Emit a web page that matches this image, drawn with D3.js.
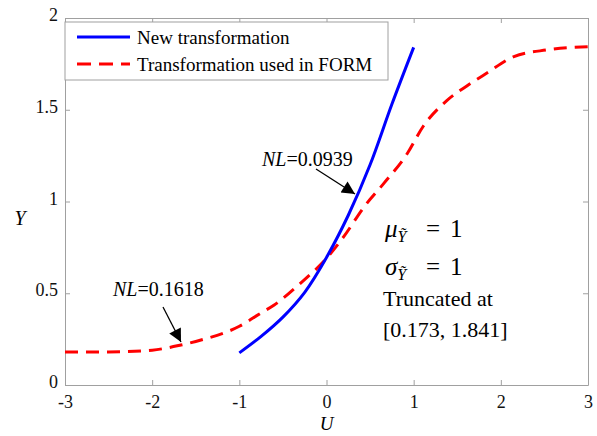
<!DOCTYPE html>
<html>
<head>
  <meta charset="utf-8">
  <script src="https://d3js.org/d3.v7.min.js"></script>
  <style>
    body { margin: 0; background: #fff; }
  </style>
</head>
<body>
  <script>
    // Values
    const formU = [-3, -2.5, -2, -1.67, -1.44, -1.0, -0.76, -0.6, -0.3, 0, 0.2, 0.43, 0.66, 0.925, 1.11, 1.38, 1.61, 1.84, 2.15, 2.53, 3];
    const formY = [0.18, 0.18, 0.19, 0.218, 0.245, 0.32, 0.39, 0.436, 0.554, 0.69, 0.81, 0.97, 1.1, 1.26, 1.41, 1.55, 1.63, 1.70, 1.79, 1.826, 1.844];
    const newU = [-1, -0.75, -0.5, -0.25, 0, 0.25, 0.5, 0.75, 1.0];
    const newY = [0.175, 0.265, 0.37, 0.505, 0.695, 0.925, 1.2, 1.53, 1.84];
    const xTicks = [-3, -2, -1, 0, 1, 2, 3];
    const yTicks = [0, 0.5, 1, 1.5, 2];
    const legendLabels = ["New transformation", "Transformation used in FORM"];

    const width = 597, height = 436;
    const margin = { top: 18, right: 9, bottom: 51, left: 65 };

    const svg = d3.select("body").append("svg")
      .attr("width", width)
      .attr("height", height);

    const x = d3.scaleLinear().domain([-3, 3]).range([margin.left, width - margin.right]);
    const y = d3.scaleLinear().domain([0, 2]).range([height - margin.bottom, margin.top]);

    const axisColor = "#a0a0a0";

    // axes with inward ticks
    const gx = svg.append("g")
      .attr("transform", `translate(0,${y(0)})`)
      .call(d3.axisBottom(x).tickValues(xTicks).tickSizeInner(-5).tickSizeOuter(0).tickPadding(10).tickFormat(d => d));
    const gy = svg.append("g")
      .attr("transform", `translate(${x(-3)},0)`)
      .call(d3.axisLeft(y).tickValues(yTicks).tickSizeInner(-5).tickSizeOuter(0).tickPadding(7).tickFormat(d => d));
    svg.append("g")
      .attr("transform", `translate(0,${y(2)})`)
      .call(d3.axisTop(x).tickValues(xTicks).tickSizeInner(-5).tickSizeOuter(0).tickFormat(""));
    svg.append("g")
      .attr("transform", `translate(${x(3)},0)`)
      .call(d3.axisRight(y).tickValues(yTicks).tickSizeInner(-5).tickSizeOuter(0).tickFormat(""));

    svg.selectAll(".domain, .tick line").attr("stroke", axisColor);
    svg.selectAll(".tick text").style("font-size", "18px").attr("fill", "#111");
    gy.selectAll(".tick text").attr("dy", "0.15em");

    // axis labels
    svg.append("text").attr("x", x(0)).attr("y", 430).attr("text-anchor", "middle")
      .style("font-size", "19px").style("font-style", "italic").text("U");
    svg.append("text").attr("x", 20).attr("y", 225).attr("text-anchor", "middle")
      .style("font-size", "20px").style("font-style", "italic").text("Y");

    // curves
    const line = d3.line().x(d => x(d[0])).y(d => y(d[1])).curve(d3.curveMonotoneX);
    svg.append("path")
      .datum(formU.map((u, i) => [u, formY[i]]))
      .attr("d", line)
      .attr("fill", "none").attr("stroke", "#ff0000").attr("stroke-width", 3)
      .attr("stroke-dasharray", "13,8");
    svg.append("path")
      .datum(newU.map((u, i) => [u, newY[i]]))
      .attr("d", line.curve(d3.curveCatmullRom))
      .attr("fill", "none").attr("stroke", "#0000ff").attr("stroke-width", 3);

    // legend
    const lg = svg.append("g");
    lg.append("rect").attr("x", x(-3)).attr("y", 22).attr("width", 323).attr("height", 58)
      .attr("fill", "#fff").attr("stroke", axisColor);
    const legendStyles = [{ c: "#0000ff", dash: null }, { c: "#ff0000", dash: "14,8" }];
    legendLabels.forEach((lab, i) => {
      const ly = 37 + i * 27;
      lg.append("line").attr("x1", 77).attr("x2", 130).attr("y1", ly).attr("y2", ly)
        .attr("stroke", legendStyles[i].c).attr("stroke-width", 3)
        .attr("stroke-dasharray", legendStyles[i].dash);
      lg.append("text").attr("x", 137).attr("y", ly + 7).style("font-size", "19px").text(lab);
    });

    // arrow marker
    svg.append("defs").append("marker")
      .attr("id", "arr").attr("viewBox", "0 0 10 10").attr("refX", 10).attr("refY", 5)
      .attr("markerWidth", 16).attr("markerHeight", 13).attr("markerUnits", "userSpaceOnUse")
      .attr("orient", "auto")
      .append("path").attr("d", "M0,0L10,5L0,10z").attr("fill", "#000");

    function annot(tx, ty, value, ax1, ay1, ax2, ay2) {
      const t = svg.append("text").attr("x", tx).attr("y", ty).style("font-size", "20px");
      t.append("tspan").style("font-style", "italic").text("NL");
      t.append("tspan").text("=" + value);
      svg.append("line").attr("x1", ax1).attr("y1", ay1).attr("x2", ax2).attr("y2", ay2)
        .attr("stroke", "#000").attr("stroke-width", 1.3).attr("marker-end", "url(#arr)");
    }
    annot(262, 166, "0.0939", 316, 169, 355, 194);
    annot(113, 296, "0.1618", 163, 307, 181, 342);

    // parameter text block
    function param(sym, ty) {
      const t = svg.append("text").attr("x", 385).attr("y", ty).style("font-size", "25px");
      t.append("tspan").style("font-style", "italic").text(sym);
      t.append("tspan").attr("dy", 5).style("font-size", "16px").style("font-style", "italic").text("\u1EF8");
      t.append("tspan").attr("dy", -5).attr("x", 426).text("=");
      t.append("tspan").attr("x", 450).text("1");
    }
    param("\u03BC", 237);
    param("\u03C3", 275);
    svg.append("text").attr("x", 383).attr("y", 306).style("font-size", "22px").text("Truncated at");
    svg.append("text").attr("x", 383).attr("y", 337).style("font-size", "22px").text("[0.173, 1.841]");

    // one serif family for every text
    svg.selectAll("text").style("font-family", "\"Liberation Serif\"");
  </script>
</body>
</html>
